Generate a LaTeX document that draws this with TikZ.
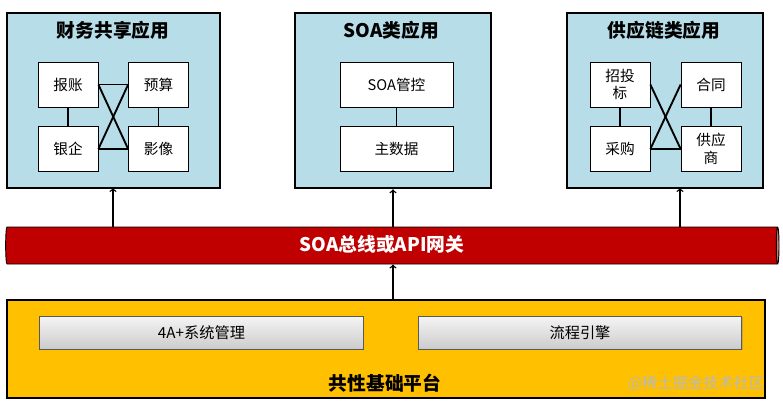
\documentclass[tikz,border=0pt]{standalone}
\usepackage{fontspec}
\setmainfont{Noto Sans CJK SC}
\usetikzlibrary{shapes.geometric,shadows}
\definecolor{bleu}{RGB}{183,222,232}
\definecolor{rouge}{RGB}{192,0,0}
\definecolor{capot}{RGB}{222,110,110}
\definecolor{jaune}{RGB}{255,192,0}

\begin{document}
\begin{tikzpicture}[x=0.3mm,y=-0.3mm,
  app/.style={draw, line width=2.2pt, fill=bleu, minimum width=#1, minimum height=52.5mm},
  titre/.style={font=\fontsize{16}{18}\selectfont\bfseries},
  bloc/.style={draw, fill=white, line width=0.6pt, minimum width=#1, minimum height=13.5mm,
    align=center, font=\fontsize{12.5}{15}\selectfont},
  bloc/.default=18mm,
  lien/.style={line width=1.6pt},
  fleche/.style={->, line width=1.2pt},
  module/.style={draw=gray!70!black, line width=0.6pt, top color=gray!8, bottom color=gray!40,
    drop shadow={shadow xshift=1pt, shadow yshift=-1pt, opacity=0.4},
    minimum width=97mm, minimum height=9.9mm, font=\fontsize{13}{15}\selectfont}]

\useasboundingbox (0,0) rectangle (783,406);

%applications
\node [app=63.9mm] (b1) at (113.5,100.5) {};
\node [app=58.8mm] (b2) at (393,100.5) {};
\node [app=58.8mm] (b3) at (665,100.5) {};
\node [titre] (t1) at (113,30) {财务共享应用};
\node [titre] (t2) at (391.5,30) {SOA类应用};
\node [titre] (t3) at (664,30) {供应链类应用};

%finance
\node [bloc] (bz) at (68,84.5) {报账};
\node [bloc] (ys) at (158.5,84.5) {预算};
\node [bloc] (yq) at (68,149) {银企};
\node [bloc] (yx) at (158.5,149) {影像};
\draw [lien] (bz) -- (yq);
\draw [lien] (ys) -- (yx);
\draw [lien] (bz.east) -- (ys.west);
\draw [lien] (yq.east) -- (yx.west);
\draw [lien] (bz.east) -- (yx.west);
\draw [lien] (yq.east) -- (ys.west);

%soa
\node [bloc=33.9mm] (gk) at (396.5,84.5) {SOA管控};
\node [bloc=33.9mm] (sj) at (396.5,149) {主数据};
\draw [lien] (gk) -- (sj);

%chaine
\node [bloc] (zt) at (620,84.5) {招投\\标};
\node [bloc] (ht) at (711,84.5) {合同};
\node [bloc] (cg) at (620,149) {采购};
\node [bloc] (gy) at (711,149) {供应\\商};
\draw [lien] (zt) -- (cg);
\draw [lien] (ht) -- (gy);
\draw [lien] (cg.east) -- (gy.west);
\draw [lien] (zt.east) -- (gy.west);
\draw [lien] (cg.east) -- (ht.west);

%bus
\node [cylinder, draw, line width=0.8pt, cylinder uses custom fill,
  cylinder body fill=rouge, cylinder end fill=capot, aspect=0.35,
  minimum width=11.1mm, minimum height=232mm] (bus) at (391,245.5) {};
\node [text=white, font=\fontsize{16}{18}\selectfont\bfseries] (bt) at (382,244) {SOA总线或API网关};

\coordinate (a1) at (113,188);
\coordinate (a3) at (680,188);
\draw [fleche] (bus.north -| a1) -- (a1);
\draw [fleche] (bus.north -| b2.south) -- (b2.south);
\draw [fleche] (bus.north -| a3) -- (a3);

%plateforme
\node [draw, line width=2.2pt, fill=jaune, minimum width=227.4mm, minimum height=29.4mm] (pf) at (386,349) {};
\node [module] (m1) at (201.5,332.5) {4A+系统管理};
\node [module] (m2) at (580,332.5) {流程引擎};
\node [titre] (t4) at (385,383) {共性基础平台};
\node [text=gray!55, font=\fontsize{13}{15}\selectfont] (wm) at (696,383) {@稀土掘金技术社区};

\draw [fleche] (pf.north -| b2.south) -- (bus.south -| b2.south);

\end{tikzpicture}
\end{document}
